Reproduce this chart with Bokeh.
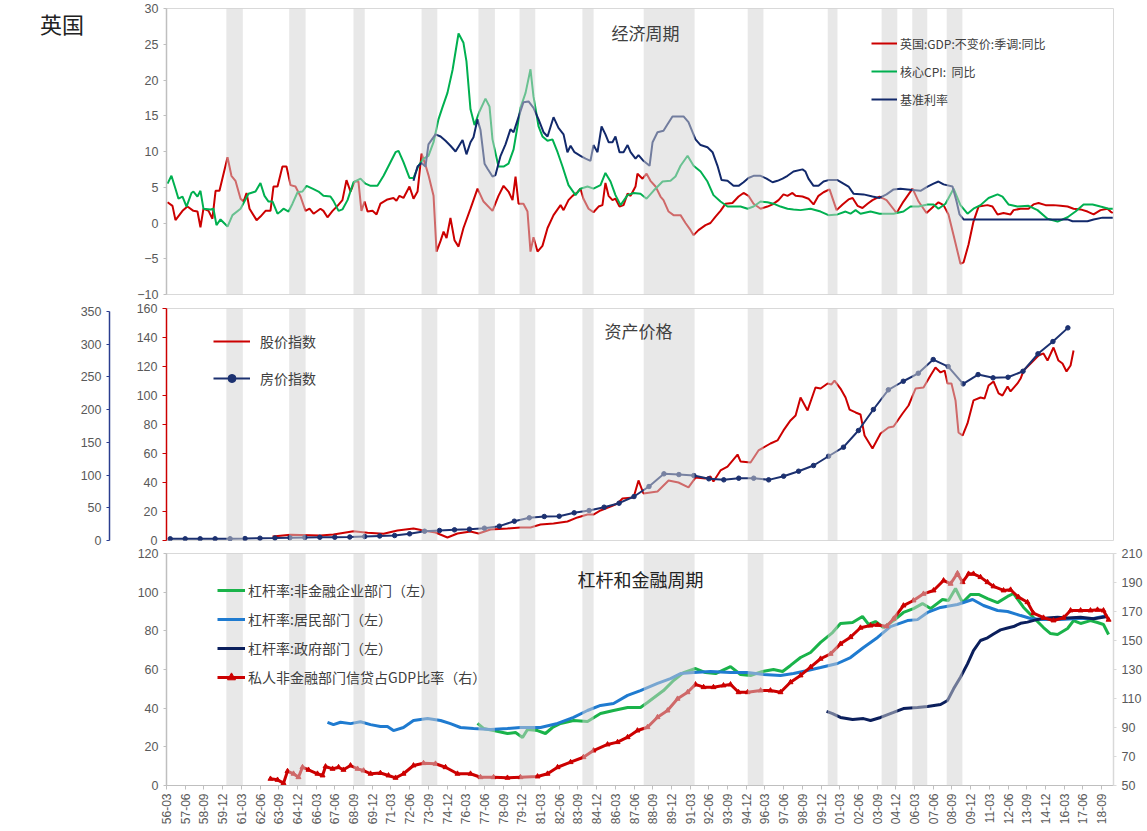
import math
from bokeh.plotting import figure
from bokeh.models import (Range1d, LinearAxis, Legend, LegendItem, BoxAnnotation,
                          Label, FixedTicker, Div)
from bokeh.layouts import column, row
from bokeh.embed import file_html
from bokeh.resources import INLINE

# ---------------------------------------------------------------- data
# time axis is in fractional years (1956.0 = 1956-03)
x_tick_labels = ["56-03", "57-06", "58-09", "59-12", "61-03", "62-06", "63-09", "64-12",
                 "66-03", "67-06", "68-09", "69-12", "71-03", "72-06", "73-09", "74-12",
                 "76-03", "77-06", "78-09", "79-12", "81-03", "82-06", "83-09", "84-12",
                 "86-03", "87-06", "88-09", "89-12", "91-03", "92-06", "93-09", "94-12",
                 "96-03", "97-06", "98-09", "99-12", "01-03", "02-06", "03-09", "04-12",
                 "06-03", "07-06", "08-09", "09-12", "11-03", "12-06", "13-09", "14-12",
                 "16-03", "17-06", "18-09"]

# recession periods (shaded)
recession_start = [1960.0, 1964.2, 1968.5, 1973.05, 1976.85, 1979.6, 1983.8, 1987.9,
                   1994.85, 2000.2, 2003.8, 2005.85, 2008.15]
recession_end = [1961.1, 1965.3, 1969.25, 1974.1, 1977.95, 1980.65, 1984.55, 1991.3,
                 1995.9, 2000.85, 2004.85, 2006.85, 2009.2]

# --- economic cycle
gdp_t = [1956.07, 1956.40, 1956.60, 1957.07, 1957.40, 1957.80, 1958.07, 1958.27, 1958.47, 1958.81,
         1959.07, 1959.28, 1959.54, 1960.08, 1960.34, 1960.61, 1960.95, 1961.15, 1961.35, 1961.55,
         1962.02, 1962.28, 1962.62, 1962.95, 1963.15, 1963.42, 1963.75, 1964.02, 1964.29, 1964.62,
         1964.96, 1965.29, 1965.56, 1965.83, 1966.29, 1966.49, 1966.76, 1967.10, 1967.43, 1967.76,
         1968.03, 1968.30, 1968.57, 1968.83, 1969.03, 1969.24, 1969.44, 1969.77, 1970.04, 1970.30,
         1970.77, 1971.17, 1971.37, 1971.57, 1971.84, 1972.24, 1972.51, 1972.78, 1973.05, 1973.31,
         1973.51, 1973.85, 1974.05, 1974.32, 1974.52, 1974.72, 1974.98, 1975.25, 1975.52, 1975.85,
         1976.32, 1976.79, 1977.19, 1977.79, 1978.19, 1978.53, 1978.86, 1979.13, 1979.33, 1979.53,
         1979.86, 1980.13, 1980.33, 1980.53, 1980.80, 1981.13, 1981.47, 1981.87, 1982.34, 1982.54,
         1982.87, 1983.14, 1983.47, 1983.67, 1983.87, 1984.21, 1984.54, 1984.88, 1985.14, 1985.34,
         1985.55, 1985.81, 1986.01, 1986.28, 1986.55, 1986.82, 1987.02, 1987.35, 1987.48, 1987.82,
         1988.09, 1988.35, 1988.69, 1989.02, 1989.22, 1989.56, 1989.89, 1990.36, 1990.69, 1991.03,
         1991.23, 1991.56, 1992.03, 1992.36, 1992.70, 1993.03, 1993.37, 1993.83, 1994.24, 1994.57,
         1994.90, 1995.24, 1995.71, 1996.17, 1996.51, 1996.91, 1997.24, 1997.51, 1997.84, 1998.05,
         1998.51, 1998.91, 1999.25, 1999.58, 1999.92, 2000.32, 2000.79, 2001.19, 2001.59, 2001.86,
         2002.19, 2002.52, 2002.86, 2003.19, 2003.66, 2004.13, 2004.80, 2005.26, 2005.87, 2006.27,
         2006.80, 2007.27, 2007.60, 2007.94, 2008.27, 2008.61, 2009.07, 2009.28, 2009.61, 2009.94,
         2010.28, 2010.88, 2011.21, 2011.55, 2011.95, 2012.42, 2012.62, 2013.09, 2013.62, 2013.95,
         2014.29, 2014.76, 2015.29, 2015.76, 2016.23, 2016.63, 2017.10, 2017.56, 2017.97, 2018.43,
         2018.90, 2019.10, 2019.25]
gdp_yoy = [2.9, 2.4, 0.4, 1.7, 2.3, 1.7, 1.6, -0.6, 2.0, 1.7,
           0.6, 4.5, 4.5, 9.2, 6.6, 5.9, 3.4, 3.0, 4.2, 2.0,
           0.4, 0.9, 1.7, 1.7, 5.1, 5.1, 7.9, 7.9, 5.3, 5.1,
           3.7, 1.7, 2.0, 1.3, 2.0, 1.7, 0.8, 1.7, 2.4, 3.2,
           6.0, 4.4, 5.8, 5.8, 1.7, 3.0, 1.6, 1.7, 1.2, 2.7,
           3.3, 3.5, 3.1, 3.8, 3.5, 5.1, 3.4, 4.4, 9.7, 8.1,
           6.7, 3.8, -4.0, -2.5, -1.2, -2.1, 0.7, -2.4, -3.3, -0.7,
           2.0, 4.8, 3.0, 1.7, 3.8, 5.2, 4.4, 3.2, 6.5, 2.7,
           2.7, 1.6, -4.0, -2.0, -4.0, -3.2, -0.7, 1.1, 2.5, 1.8,
           3.2, 3.8, 4.3, 4.8, 3.4, 2.0, 1.5, 2.3, 2.5, 5.6,
           3.8, 3.2, 3.4, 2.3, 2.5, 4.1, 3.8, 5.1, 6.9, 6.2,
           6.9, 5.9, 5.1, 3.7, 3.2, 1.6, 1.1, 1.1, 0.0, -1.0,
           -1.7, -1.0, -0.3, 0.0, 0.9, 1.7, 2.7, 2.8, 3.7, 4.2,
           3.8, 2.7, 2.0, 2.3, 2.6, 3.2, 4.0, 3.8, 4.2, 3.8,
           3.7, 3.4, 2.6, 3.8, 4.3, 4.7, 1.8, 2.6, 3.3, 3.5,
           2.4, 2.1, 2.7, 3.2, 3.7, 3.2, 1.4, 3.0, 4.8, 3.0,
           1.4, 2.3, 2.9, 2.5, 1.2, -1.7, -5.7, -5.5, -3.0, 0.2,
           2.3, 2.5, 2.3, 1.2, 1.4, 1.2, 1.8, 2.0, 2.0, 2.6,
           2.8, 2.5, 2.5, 2.4, 2.3, 2.0, 1.9, 1.6, 1.2, 1.8,
           2.0, 1.6, 1.4]

cpi_t = [1956.07, 1956.33, 1956.60, 1956.80, 1957.07, 1957.34, 1957.67, 1957.80, 1958.07, 1958.27,
         1958.47, 1958.94, 1959.14, 1959.34, 1959.61, 1960.08, 1960.41, 1960.95, 1961.48, 1961.95,
         1962.28, 1962.55, 1962.82, 1963.09, 1963.42, 1963.62, 1963.82, 1964.16, 1964.42, 1964.76,
         1965.09, 1965.36, 1965.76, 1966.16, 1966.49, 1966.96, 1967.16, 1967.50, 1967.76, 1968.10,
         1968.50, 1968.97, 1969.30, 1969.64, 1970.10, 1970.51, 1970.97, 1971.31, 1971.51, 1971.84,
         1972.24, 1972.51, 1972.84, 1973.18, 1973.51, 1973.85, 1974.18, 1974.45, 1974.78, 1975.12,
         1975.52, 1975.85, 1976.05, 1976.32, 1976.59, 1976.92, 1977.32, 1977.59, 1977.79, 1978.19,
         1978.53, 1978.86, 1979.20, 1979.46, 1979.66, 1980.00, 1980.33, 1980.53, 1980.87, 1981.13,
         1981.47, 1981.80, 1982.14, 1982.47, 1982.87, 1983.34, 1983.67, 1984.14, 1984.54, 1985.01,
         1985.34, 1985.68, 1986.01, 1986.35, 1986.82, 1987.22, 1987.68, 1988.09, 1988.55, 1989.16,
         1989.69, 1990.02, 1990.36, 1990.83, 1991.23, 1991.70, 1992.16, 1992.56, 1993.03, 1993.50,
         1993.90, 1994.37, 1994.84, 1995.24, 1995.71, 1996.17, 1996.57, 1997.04, 1997.51, 1997.91,
         1998.38, 1999.05, 1999.72, 2000.25, 2000.85, 2001.39, 2001.72, 2002.06, 2002.39, 2003.06,
         2003.66, 2004.60, 2005.26, 2005.73, 2006.27, 2006.87, 2007.27, 2007.60, 2008.07, 2008.61,
         2009.07, 2009.54, 2009.94, 2010.41, 2010.95, 2011.55, 2011.88, 2012.28, 2012.88, 2013.62,
         2014.22, 2014.89, 2015.56, 2016.23, 2016.76, 2017.30, 2017.90, 2018.43, 2018.97, 2019.25]
cpi_yoy = [5.5, 6.6, 4.8, 3.4, 3.7, 2.3, 4.2, 4.4, 3.7, 4.5,
           2.0, 1.9, 2.0, -0.3, 0.5, -0.5, 1.1, 2.0, 4.1, 4.4,
           5.6, 3.8, 3.0, 3.0, 1.3, 1.6, 2.0, 1.6, 2.7, 4.3,
           4.4, 5.2, 4.8, 4.4, 3.8, 3.7, 3.1, 1.7, 1.9, 3.2,
           5.7, 6.2, 5.5, 5.2, 5.2, 6.6, 8.5, 9.9, 10.1, 8.5,
           6.3, 6.3, 8.0, 9.0, 9.4, 11.3, 14.5, 16.2, 18.2, 21.4,
           26.5, 25.2, 22.6, 15.9, 13.7, 15.6, 17.4, 16.3, 11.7, 7.9,
           7.9, 8.3, 10.3, 13.5, 16.1, 18.2, 21.5, 17.7, 13.5, 12.1,
           11.5, 11.7, 9.9, 7.9, 5.3, 3.9, 4.8, 5.1, 4.8, 5.3,
           7.0, 5.8, 3.9, 2.5, 3.9, 4.2, 4.1, 3.4, 4.5, 5.8,
           5.9, 6.5, 8.0, 9.4, 8.0, 7.2, 5.8, 3.9, 3.0, 2.3,
           2.3, 2.3, 2.0, 2.3, 3.0, 2.9, 2.7, 2.3, 2.0, 1.9,
           1.8, 2.0, 1.6, 1.1, 1.2, 1.6, 1.3, 1.8, 1.3, 1.6,
           1.3, 1.3, 1.6, 2.3, 2.3, 2.6, 2.6, 2.0, 2.7, 4.8,
           2.5, 1.3, 2.0, 2.5, 3.5, 4.0, 3.7, 2.6, 2.3, 2.4,
           1.8, 0.6, 0.2, 0.8, 1.6, 2.6, 2.6, 2.3, 2.0, 2.0]

rate_t = [1972.51, 1972.78, 1973.05, 1973.31, 1973.51, 1973.98, 1974.32, 1974.65, 1974.98, 1975.32,
          1975.79, 1976.05, 1976.32, 1976.52, 1976.79, 1976.99, 1977.26, 1977.46, 1977.79, 1977.99,
          1978.33, 1978.66, 1978.99, 1979.20, 1979.53, 1979.86, 1980.20, 1980.53, 1980.87, 1981.20,
          1981.47, 1981.87, 1982.20, 1982.54, 1982.80, 1983.01, 1983.27, 1983.67, 1984.01, 1984.34,
          1984.54, 1984.81, 1985.08, 1985.34, 1985.55, 1985.81, 1986.01, 1986.28, 1986.55, 1986.82,
          1987.02, 1987.35, 1987.55, 1987.88, 1988.29, 1988.49, 1988.82, 1989.22, 1989.49, 1989.82,
          1990.56, 1990.89, 1991.36, 1991.70, 1992.16, 1992.50, 1992.83, 1993.10, 1993.50, 1993.90,
          1994.24, 1994.57, 1994.90, 1995.24, 1995.71, 1996.11, 1996.51, 1996.84, 1997.18, 1997.51,
          1997.91, 1998.51, 1998.71, 1998.91, 1999.25, 1999.58, 1999.92, 2000.25, 2000.85, 2001.25,
          2001.59, 2001.92, 2002.59, 2003.19, 2003.66, 2004.13, 2004.60, 2005.06, 2005.53, 2006.40,
          2006.87, 2007.27, 2007.60, 2007.94, 2008.54, 2008.81, 2009.01, 2009.28, 2016.23, 2016.56,
          2017.56, 2017.97, 2018.57, 2019.25]
base_rate = [5.9, 7.9, 8.4, 7.9, 11.0, 12.4, 12.1, 11.5, 10.8, 10.0,
             11.6, 9.6, 11.3, 12.0, 14.5, 13.0, 8.3, 7.6, 6.5, 6.7,
             9.4, 11.0, 13.1, 12.7, 14.8, 16.9, 17.0, 16.1, 14.5, 12.7,
             12.1, 14.8, 13.3, 12.4, 9.9, 10.8, 9.9, 9.4, 9.0, 8.7,
             10.9, 9.9, 13.5, 12.4, 11.3, 11.3, 12.1, 9.9, 9.9, 10.9,
             9.9, 9.0, 9.5, 8.7, 8.0, 11.3, 12.7, 12.9, 13.8, 14.9,
             14.9, 14.1, 11.7, 10.9, 10.6, 9.9, 8.0, 6.0, 5.9, 5.2,
             5.2, 5.7, 6.3, 6.6, 6.6, 6.2, 5.7, 5.9, 6.2, 6.6,
             7.2, 7.5, 7.2, 6.2, 5.2, 5.2, 5.8, 6.0, 6.0, 5.5,
             5.1, 4.1, 4.0, 3.7, 3.5, 4.0, 4.7, 4.8, 4.7, 4.5,
             5.1, 5.5, 5.8, 5.4, 5.1, 3.0, 1.2, 0.5, 0.5, 0.25,
             0.25, 0.5, 0.75, 0.75]

# --- asset prices
stock_t = [1963.09, 1964.29, 1966.29, 1967.16, 1968.50, 1969.44, 1970.51, 1971.44, 1972.51, 1973.18,
           1973.98, 1974.78, 1975.45, 1976.32, 1976.86, 1977.66, 1978.79, 1979.66, 1980.33, 1981.00,
           1981.87, 1982.80, 1983.47, 1984.14, 1984.54, 1985.01, 1985.68, 1986.15, 1986.48, 1987.22,
           1987.55, 1987.88, 1988.82, 1989.56, 1990.22, 1990.89, 1991.36, 1992.03, 1992.36, 1992.56,
           1993.03, 1993.50, 1994.17, 1994.37, 1995.04, 1995.57, 1996.37, 1996.84, 1997.24, 1997.71,
           1998.05, 1998.38, 1998.85, 1999.38, 1999.72, 2000.19, 2000.45, 2000.65, 2001.05, 2001.39,
           2001.66, 2002.06, 2002.39, 2002.66, 2003.19, 2003.73, 2004.26, 2004.60, 2005.20, 2005.60,
           2006.07, 2006.60, 2007.07, 2007.40, 2007.74, 2008.01, 2008.21, 2008.47, 2008.74, 2008.94,
           2009.21, 2009.54, 2009.94, 2010.41, 2010.68, 2010.95, 2011.28, 2011.62, 2011.88, 2012.22,
           2012.42, 2012.88, 2013.09, 2013.29, 2013.76, 2014.29, 2014.62, 2014.89, 2015.29, 2015.62,
           2015.89, 2016.16, 2016.43, 2016.63]
stock_index = [2.8, 3.9, 3.4, 4.1, 6.4, 5.3, 4.6, 6.9, 8.3, 6.9,
               5.5, 2.1, 4.8, 6.2, 4.8, 7.6, 8.3, 9.0, 9.0, 11.0,
               11.7, 13.1, 15.9, 17.9, 17.9, 20.7, 23.4, 25.5, 29.0, 29.7,
               41.4, 32.4, 33.8, 41.4, 40.0, 36.6, 43.4, 42.8, 44.1, 40.7,
               48.3, 51.0, 59.3, 54.5, 53.8, 62.1, 66.9, 69.0, 75.9, 82.8,
               86.2, 98.6, 89.7, 105.5, 104.8, 108.3, 107.6, 110.3, 104.8, 98.6,
               90.3, 88.3, 86.9, 72.4, 63.4, 73.8, 77.9, 78.6, 87.6, 93.1,
               104.8, 105.5, 113.8, 119.3, 115.9, 117.2, 108.3, 108.3, 96.6, 74.5,
               72.4, 80.7, 96.6, 98.6, 97.9, 106.9, 109.7, 101.4, 100.0, 106.2,
               102.8, 108.3, 111.7, 117.2, 122.1, 127.6, 129.0, 124.1, 133.1, 124.1,
               122.1, 116.6, 120.7, 131.0]

house_year = list(range(1956, 2017))
house_index = [2.6, 2.6, 2.6, 2.6, 2.7, 3.0, 3.5, 3.8, 4.3, 4.6,
               4.9, 5.0, 5.3, 6.1, 6.9, 7.6, 10.2, 14.2, 15.3, 16.3,
               17.3, 18.8, 21.9, 29.5, 34.7, 36.7, 37.1, 42.3, 45.8, 50.9,
               57.0, 67.2, 82.5, 101.9, 100.8, 99.3, 94.3, 92.7, 95.2, 95.2,
               92.7, 98.3, 105.9, 114.6, 128.8, 142.6, 168.1, 200.2, 230.3, 243.4,
               255.6, 276.6, 265.9, 239.4, 253.6, 248.6, 249.5, 258.7, 285.3, 304.1,
               325.0]

# --- leverage and financial cycle
hh_t = [1966.76, 1967.16, 1967.63, 1968.30, 1968.97, 1969.64, 1970.30, 1970.77, 1971.17, 1971.84,
        1972.51, 1973.45, 1974.32, 1974.98, 1975.65, 1976.52, 1977.66, 1978.79, 1979.66, 1981.00,
        1982.14, 1983.21, 1984.14, 1985.01, 1985.88, 1986.82, 1987.68, 1988.82, 1989.69, 1990.36,
        1991.23, 1992.36, 1993.70, 1994.84, 1995.91, 1997.04, 1997.91, 1998.85, 1999.72, 2000.85,
        2001.72, 2002.59, 2003.53, 2004.39, 2005.53, 2006.20, 2006.87, 2007.74, 2008.87, 2009.88,
        2010.61, 2011.55, 2012.22, 2013.09, 2013.76, 2014.62, 2015.76, 2016.90, 2017.97, 2018.90]
hh_lev = [32.7, 31.5, 32.7, 32.0, 33.0, 31.5, 30.5, 30.5, 28.4, 30.0,
          33.6, 34.6, 33.6, 32.0, 30.0, 29.5, 29.0, 29.5, 30.0, 30.0,
          32.1, 35.2, 38.8, 41.4, 42.4, 46.6, 49.1, 52.8, 55.3, 57.9,
          58.4, 59.0, 58.4, 58.4, 57.4, 56.9, 57.9, 59.5, 61.0, 63.1,
          66.2, 71.4, 76.6, 82.2, 85.3, 85.8, 89.5, 92.1, 93.6, 96.2,
          93.1, 90.5, 90.0, 87.9, 86.4, 85.8, 85.8, 86.4, 86.4, 87.9]

corp_t = [1976.79, 1977.19, 1977.86, 1978.79, 1979.33, 1979.80, 1980.13, 1980.80, 1981.33, 1981.80,
          1982.34, 1983.21, 1984.14, 1985.01, 1985.88, 1986.82, 1987.68, 1988.15, 1989.22, 1989.89,
          1990.56, 1991.36, 1992.03, 1992.70, 1993.70, 1994.37, 1995.04, 1995.84, 1996.57, 1997.18,
          1997.71, 1998.38, 1999.05, 1999.72, 2000.52, 2001.05, 2001.86, 2002.52, 2002.93, 2003.39,
          2003.93, 2004.60, 2005.26, 2005.93, 2006.53, 2007.07, 2007.87, 2008.27, 2008.74, 2009.21,
          2009.74, 2010.28, 2010.88, 2011.55, 2012.22, 2012.62, 2013.29, 2013.95, 2014.62, 2015.09,
          2015.56, 2016.23, 2016.63, 2017.10, 2017.76, 2018.23, 2018.63, 2018.97]
corp_lev = [32.1, 29.5, 28.4, 26.9, 27.4, 24.8, 29.0, 28.4, 26.9, 30.0,
            32.1, 33.6, 33.1, 37.2, 38.8, 40.3, 40.3, 42.9, 49.1, 54.3,
            58.4, 60.5, 58.4, 57.9, 61.5, 57.4, 56.9, 59.0, 60.0, 59.0,
            62.1, 66.2, 68.8, 74.0, 79.1, 83.8, 84.3, 87.4, 83.3, 84.8,
            81.7, 85.3, 89.5, 91.5, 94.1, 91.5, 96.2, 95.7, 101.9, 94.6,
            98.8, 98.8, 96.7, 94.6, 97.8, 99.3, 92.1, 86.9, 81.7, 78.6,
            78.1, 81.2, 85.3, 83.8, 85.3, 84.3, 83.3, 78.1]

gov_t = [2000.12, 2000.52, 2001.05, 2001.86, 2002.59, 2003.06, 2003.73, 2004.60, 2005.26, 2006.20,
         2006.87, 2007.74, 2008.21, 2008.61, 2009.07, 2009.54, 2009.94, 2010.41, 2010.88, 2011.28,
         2011.75, 2012.22, 2012.62, 2013.09, 2013.55, 2014.22, 2014.89, 2015.56, 2016.23, 2017.10,
         2017.97, 2018.90]
gov_lev = [38.3, 37.2, 35.2, 34.1, 34.6, 33.6, 35.2, 37.8, 39.8, 40.3,
           40.9, 41.9, 44.0, 50.0, 56.0, 62.9, 69.8, 75.0, 76.4, 78.4,
           80.5, 81.5, 82.2, 83.9, 84.5, 85.9, 86.7, 87.0, 86.7, 87.0,
           86.2, 87.4]

credit_t = [1962.95, 1963.42, 1963.82, 1964.09, 1964.49, 1964.82, 1965.09, 1965.49, 1966.09, 1966.43,
            1966.63, 1967.10, 1967.50, 1967.83, 1968.30, 1968.77, 1969.17, 1969.64, 1970.30, 1970.84,
            1971.31, 1971.84, 1972.51, 1973.18, 1973.98, 1974.65, 1975.45, 1976.32, 1976.99, 1977.86,
            1978.79, 1979.66, 1980.80, 1981.47, 1982.14, 1983.01, 1983.87, 1984.54, 1985.48, 1986.15,
            1986.82, 1987.48, 1988.15, 1988.82, 1989.49, 1990.16, 1990.83, 1991.36, 1991.90, 1992.56,
            1993.23, 1993.70, 1994.24, 1994.84, 1995.71, 1996.37, 1997.04, 1997.71, 1998.38, 1999.05,
            1999.72, 2000.39, 2001.05, 2001.72, 2002.39, 2003.06, 2003.53, 2004.13, 2004.60, 2005.26,
            2005.93, 2006.60, 2007.27, 2007.94, 2008.41, 2008.87, 2009.21, 2009.61, 2009.94, 2010.41,
            2010.88, 2011.28, 2011.95, 2012.42, 2012.95, 2013.55, 2013.95, 2014.62, 2015.29, 2015.96,
            2016.43, 2017.10, 2017.76, 2018.23, 2018.63, 2018.97]
credit_gdp = [54.6, 53.9, 51.6, 59.9, 58.1, 55.7, 62.6, 60.8, 58.1, 56.9,
              63.1, 61.5, 62.6, 60.8, 63.8, 61.5, 60.3, 58.1, 58.6, 56.9,
              55.3, 58.1, 63.8, 65.4, 65.0, 62.6, 58.1, 58.1, 55.7, 55.7,
              55.3, 55.7, 56.2, 58.1, 62.6, 66.1, 69.5, 74.1, 78.3, 79.9,
              83.3, 87.9, 90.2, 97.1, 101.7, 109.8, 114.3, 119.7, 117.8, 117.8,
              119.0, 119.7, 114.3, 114.3, 115.5, 115.5, 114.3, 121.2, 125.9, 131.6,
              137.4, 140.8, 147.7, 152.3, 158.8, 160.3, 160.8, 159.7, 165.0, 174.1,
              177.6, 182.2, 184.5, 191.4, 189.1, 196.4, 190.2, 196.0, 196.0, 193.7,
              190.2, 187.3, 184.5, 185.0, 179.9, 176.4, 168.8, 165.7, 163.8, 165.7,
              170.7, 170.7, 170.7, 171.2, 170.7, 164.3]

# ---------------------------------------------------------------- styling
FONT = "Noto Sans CJK SC"
NUM_FONT = "Liberation Sans"
TICK_TXT = "#595959"
AXIS_GRAY = "#bfbfbf"
FRAME_GRAY = "#d9d9d9"
RED = "#cc0000"
GREEN = "#00b050"
NAVY = "#12296b"
BLUE = "#1f7bd0"
FRAME_W = 947
HEADER_W = 100

x_range = Range1d(1956.0, 2019.3)


def tick_position(lbl):
    yy, mm = int(lbl[:2]), int(lbl[3:])
    year = (1900 if yy >= 50 else 2000) + yy
    return year + (mm - 3) / 12.0


def make_fig(frame_h, y_range, top, bottom, left=166, x_axis=False):
    p = figure(frame_width=FRAME_W, frame_height=frame_h, x_range=x_range, y_range=y_range,
               output_backend="svg", toolbar_location=None,
               x_axis_location="below" if x_axis else None,
               min_border_left=left, min_border_right=34,
               min_border_top=top, min_border_bottom=bottom, margin=0)
    p.outline_line_color = FRAME_GRAY
    p.outline_line_width = 1
    p.grid.visible = False
    p.background_fill_color = "white"
    p.border_fill_color = "white"
    return p


def style_axis(ax, color, ticks, tick_out=4):
    ax.ticker = FixedTicker(ticks=ticks)
    ax.axis_line_color = color
    ax.axis_line_width = 1.5
    ax.major_tick_line_color = color
    ax.major_tick_out = tick_out
    ax.major_tick_in = 0
    ax.minor_tick_line_color = None
    ax.major_label_text_color = TICK_TXT
    ax.major_label_text_font = NUM_FONT
    ax.major_label_text_font_size = "12.5px"
    ax.major_label_standoff = 5


def add_recessions(p):
    for s, e in zip(recession_start, recession_end):
        p.add_layout(BoxAnnotation(left=s, right=e, fill_color="#d2d2d2", fill_alpha=0.5,
                                   line_color=None))


def add_title(p, text, sx, sy, size="17px", color="#404040"):
    p.add_layout(Label(x=sx, y=sy, x_units="screen", y_units="screen", text=text,
                       text_align="center", text_baseline="middle",
                       text_font=FONT, text_font_size=size, text_color=color))


def make_legend(items, loc, glyph_w, spacing, standoff, size):
    return Legend(items=items, location=loc, orientation="vertical",
                  background_fill_alpha=0, border_line_color=None,
                  glyph_width=glyph_w, glyph_height=20, label_height=20,
                  spacing=spacing, padding=0, margin=0, label_standoff=standoff,
                  label_text_font=FONT, label_text_font_size=size,
                  label_text_color="#404040")


# ---------------------------------------------------------------- panel 1: economic cycle
p1 = make_fig(286, Range1d(-10, 30), top=8, bottom=7, left=166 - HEADER_W)
style_axis(p1.yaxis[0], AXIS_GRAY, list(range(-10, 31, 5)), tick_out=3)
r_gdp = p1.line(gdp_t, gdp_yoy, color=RED, line_width=2)
r_cpi = p1.line(cpi_t, cpi_yoy, color=GREEN, line_width=2)
r_rate = p1.line(rate_t, base_rate, color=NAVY, line_width=2)
add_recessions(p1)
add_title(p1, "经济周期", 479, 262)
p1.add_layout(make_legend([LegendItem(label="英国:GDP:不变价:季调:同比", renderers=[r_gdp]),
                           LegendItem(label="核心CPI:  同比", renderers=[r_cpi]),
                           LegendItem(label="基准利率", renderers=[r_rate])],
                          (705, 185), 26, 8, 3, "12px"))

header = Div(text="英国", width=HEADER_W, height=301, margin=0,
             styles={"font-family": FONT, "font-size": "22px", "color": "#222222",
                     "padding-left": "40px", "padding-top": "12px", "line-height": "1",
                     "box-sizing": "border-box"})

# ---------------------------------------------------------------- panel 2: asset prices
p2 = make_fig(232, Range1d(0, 160), top=7, bottom=7)
p2.extra_y_ranges = {"house": Range1d(0, 354.6)}
inner = p2.yaxis[0]
style_axis(inner, RED, list(range(0, 161, 20)))
inner.axis_label = " "
inner.axis_label_text_font_size = "10px"
inner.axis_label_standoff = 10
outer = LinearAxis(y_range_name="house", bounds=(0, 350))
style_axis(outer, "#2a3d8f", list(range(0, 351, 50)), tick_out=3)
p2.add_layout(outer, "left")

r_stock = p2.line(stock_t, stock_index, color=RED, line_width=2)
house_t = [y + 0.25 for y in house_year]
r_house_l = p2.line(house_t, house_index, color="#1c3170", line_width=2, y_range_name="house")
r_house_m = p2.scatter(house_t, house_index, marker="circle", size=4.5, color="#1c3170",
                       y_range_name="house")
add_recessions(p2)
add_title(p2, "资产价格", 472, 210)
p2.add_layout(make_legend([LegendItem(label="股价指数", renderers=[r_stock]),
                           LegendItem(label="房价指数", renderers=[r_house_l, r_house_m])],
                          (47, 152), 37, 17, 10, "14px"))

# ---------------------------------------------------------------- panel 3: leverage
p3 = make_fig(232, Range1d(0, 120), top=6, bottom=40, x_axis=True)
p3.extra_y_ranges = {"credit": Range1d(50, 210)}
style_axis(p3.yaxis[0], AXIS_GRAY, list(range(0, 121, 20)), tick_out=3)
right = LinearAxis(y_range_name="credit")
style_axis(right, FRAME_GRAY, list(range(50, 211, 20)), tick_out=3)
p3.add_layout(right, "right")

xa = p3.xaxis[0]
tick_pos = [tick_position(s) for s in x_tick_labels]
xa.ticker = FixedTicker(ticks=tick_pos)
xa.major_label_overrides = {t: s for t, s in zip(tick_pos, x_tick_labels)}
xa.major_label_orientation = math.pi / 2
xa.axis_line_color = AXIS_GRAY
xa.major_tick_line_color = AXIS_GRAY
xa.major_tick_out = 4
xa.major_tick_in = 0
xa.minor_tick_line_color = None
xa.major_label_text_color = TICK_TXT
xa.major_label_text_font = NUM_FONT
xa.major_label_text_font_size = "12px"
xa.major_label_standoff = 4

r_corp = p3.line(corp_t, corp_lev, color="#1ab34a", line_width=3)
r_hh = p3.line(hh_t, hh_lev, color=BLUE, line_width=3)
r_gov = p3.line(gov_t, gov_lev, color="#0b1f5c", line_width=3)
r_cred_l = p3.line(credit_t, credit_gdp, color=RED, line_width=3, y_range_name="credit")
r_cred_m = p3.scatter(credit_t, credit_gdp, marker="triangle", size=5, color=RED,
                      y_range_name="credit")
add_recessions(p3)
add_title(p3, "杠杆和金融周期", 474, 207, size="18px", color="#222222")
p3.add_layout(make_legend([LegendItem(label="杠杆率:非金融企业部门（左）", renderers=[r_corp]),
                           LegendItem(label="杠杆率:居民部门（左）", renderers=[r_hh]),
                           LegendItem(label="杠杆率:政府部门（左）", renderers=[r_gov]),
                           LegendItem(label="私人非金融部门信贷占GDP比率（右）",
                                      renderers=[r_cred_l, r_cred_m])],
                          (51, 98), 28, 9, 3, "14px"))

page = column(row(header, p1, spacing=0, margin=0), p2, p3, spacing=0, margin=0)
open("out.html", "w").write(file_html(page, INLINE, title="英国"))
